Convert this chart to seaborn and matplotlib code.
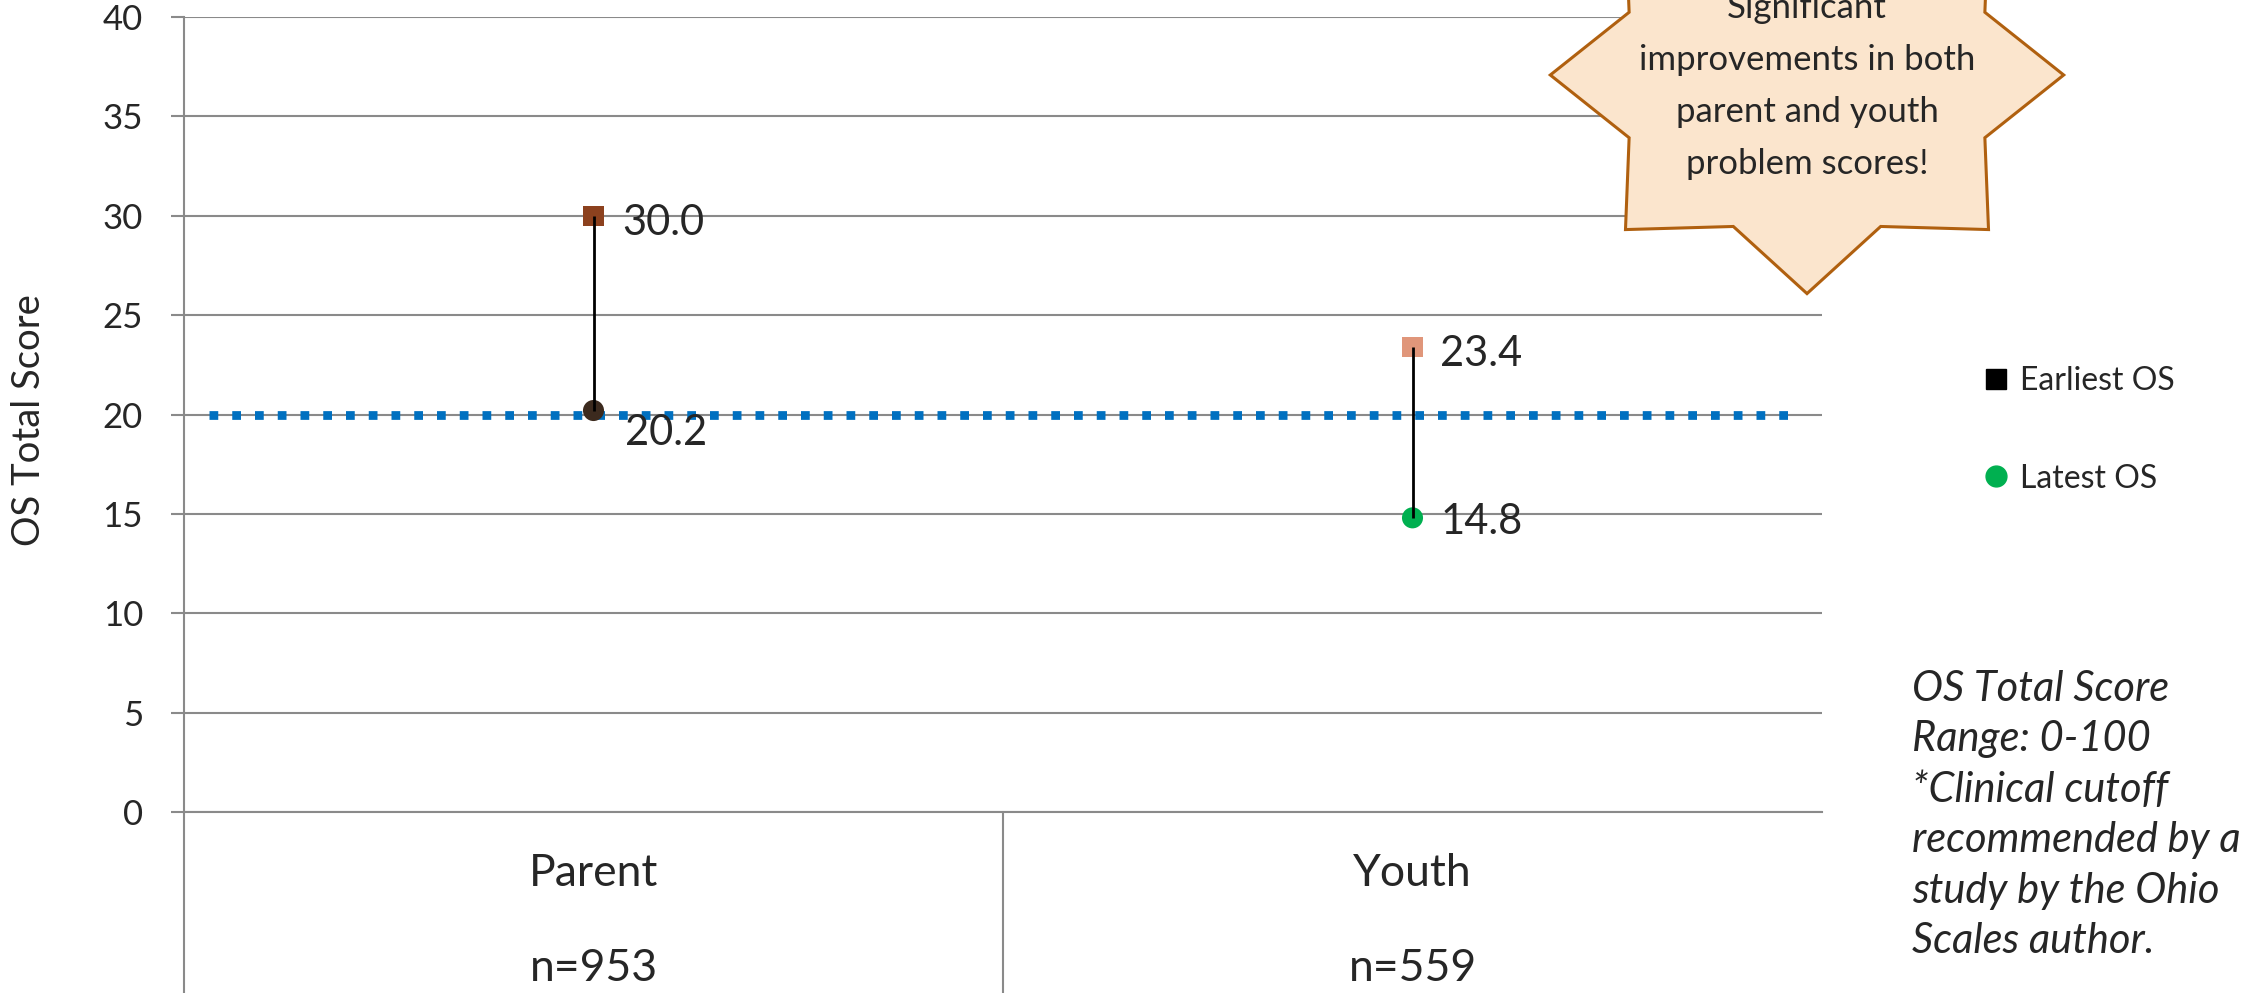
import numpy as np
import pandas as pd
import matplotlib
matplotlib.use('Agg')
import matplotlib.pyplot as plt
from matplotlib.lines import Line2D
from matplotlib.patches import Polygon
import seaborn as sns

# data
groups = ['Parent', 'Youth']
group_n = ['n=953', 'n=559']
earliest = [30.0, 23.4]
latest = [20.2, 14.8]
earliest_colors = ['#8C411E', '#E0967A']
latest_colors = ['#3C2A1E', '#00B050']
cutoff = 20
y_ticks = list(range(0, 41, 5))

star_text = 'Significant\nimprovements in both\nparent and youth\nproblem scores!'
note_text = ('OS Total Score\nRange: 0-100\n*Clinical cutoff\nrecommended by a\n'
             'study by the Ohio\nScales author.')

sns.set_style('white')
plt.rcParams['font.family'] = ['Lato', 'DejaVu Sans']

df_early = pd.DataFrame({'group': groups, 'score': earliest})
df_late = pd.DataFrame({'group': groups, 'score': latest})

W, H = 2255, 993
fig = plt.figure(figsize=(W / 100, H / 100), dpi=100)
ax = fig.add_axes([184 / W, 1 - 812 / H, (1822 - 184) / W, (812 - 17) / H])

grid_c = '#8A8A8A'
ax.set_ylim(0, 40)
ax.set_yticks(y_ticks)
ax.yaxis.grid(True, color=grid_c, lw=1.5, zorder=0)
ax.set_axisbelow(True)

# clinical cutoff line
ax.plot([-0.47, 1.47], [cutoff, cutoff], color='#0070C0', lw=6.3,
        ls=(0, (1, 1.6)), dash_capstyle='butt', zorder=2)

sns.scatterplot(data=df_early, x='group', y='score', hue='group',
                palette=earliest_colors, marker='s', s=210, linewidth=0,
                legend=False, ax=ax, zorder=3)
sns.scatterplot(data=df_late, x='group', y='score', hue='group',
                palette=latest_colors, marker='o', s=230, linewidth=0,
                legend=False, ax=ax, zorder=3)

xpos = np.arange(len(groups))
ax.vlines(xpos, latest, earliest, color='black', lw=2, zorder=4)

# value labels
e_off = [(21, -5), (20, -5)]
l_off = [(23, -16), (20, -3)]
for i in range(len(groups)):
    ax.annotate(f'{earliest[i]:.1f}', (xpos[i], earliest[i]), xytext=e_off[i],
                textcoords='offset points', va='center', ha='left', fontsize=30)
    ax.annotate(f'{latest[i]:.1f}', (xpos[i], latest[i]), xytext=l_off[i],
                textcoords='offset points', va='center', ha='left', fontsize=30)

ax.set_xlim(-0.5, 1.5)
ax.set_xticks([])
ax.set_xlabel('')
ax.set_ylabel('')
for s in ['top', 'right']:
    ax.spines[s].set_visible(False)
ax.spines['left'].set_color(grid_c)
ax.spines['left'].set_linewidth(1.5)
ax.spines['bottom'].set_color(grid_c)
ax.spines['bottom'].set_linewidth(1.5)
ax.tick_params(axis='y', length=9.5, width=1.5, color=grid_c, pad=20,
               labelsize=25, left=True)

# category table below the axis
trans = ax.get_xaxis_transform()
for xv in [-0.5, 0.5]:
    ax.plot([xv, xv], [0, -0.3], transform=trans, color=grid_c, lw=1.5,
            clip_on=False)
for i in range(len(groups)):
    ax.text(xpos[i], -0.077, groups[i], transform=trans, ha='center',
            va='center', fontsize=32)
    ax.text(xpos[i], -0.197, group_n[i], transform=trans, ha='center',
            va='center', fontsize=32)

fig.text(29 / W, 1 - 420 / H, 'OS Total Score', rotation=90, ha='center',
         va='center', fontsize=27.5)

# legend
handles = [Line2D([], [], marker='s', color='black', ls='none', markersize=14),
           Line2D([], [], marker='o', color='#00B050', ls='none', markersize=15)]
fig.legend(handles, ['Earliest OS', 'Latest OS'], loc='center left',
           bbox_to_anchor=(1983 / W, 1 - 430 / H), frameon=False, fontsize=23,
           handlelength=0.8, handletextpad=0.35, labelspacing=2.1,
           borderpad=0, borderaxespad=0)

# 8-point star callout (top is cut off by the figure edge, as in the original)
cx, cy, rx, ry = 1807, 75, 256.7, 218.6
ang = np.deg2rad(np.arange(16) * 22.5)
rr = np.where(np.arange(16) % 2 == 0, 1.0, 0.75)
pts = np.column_stack([(cx + rx * rr * np.cos(ang)) / W,
                       1 - (cy - ry * rr * np.sin(ang)) / H])
star = Polygon(pts, closed=True, facecolor='#FBE5CD', edgecolor='#B0600F',
               lw=2.2, transform=fig.transFigure, clip_on=False, zorder=10)
fig.add_artist(star)
fig.text(cx / W, 1 - 86 / H, star_text, ha='center', va='center',
         fontsize=25, linespacing=1.78, zorder=11)

fig.text(1912 / W, 1 - 815 / H, note_text, ha='left', va='center',
         fontsize=30, style='italic', linespacing=1.4)

fig.savefig('out.png', dpi=100)
